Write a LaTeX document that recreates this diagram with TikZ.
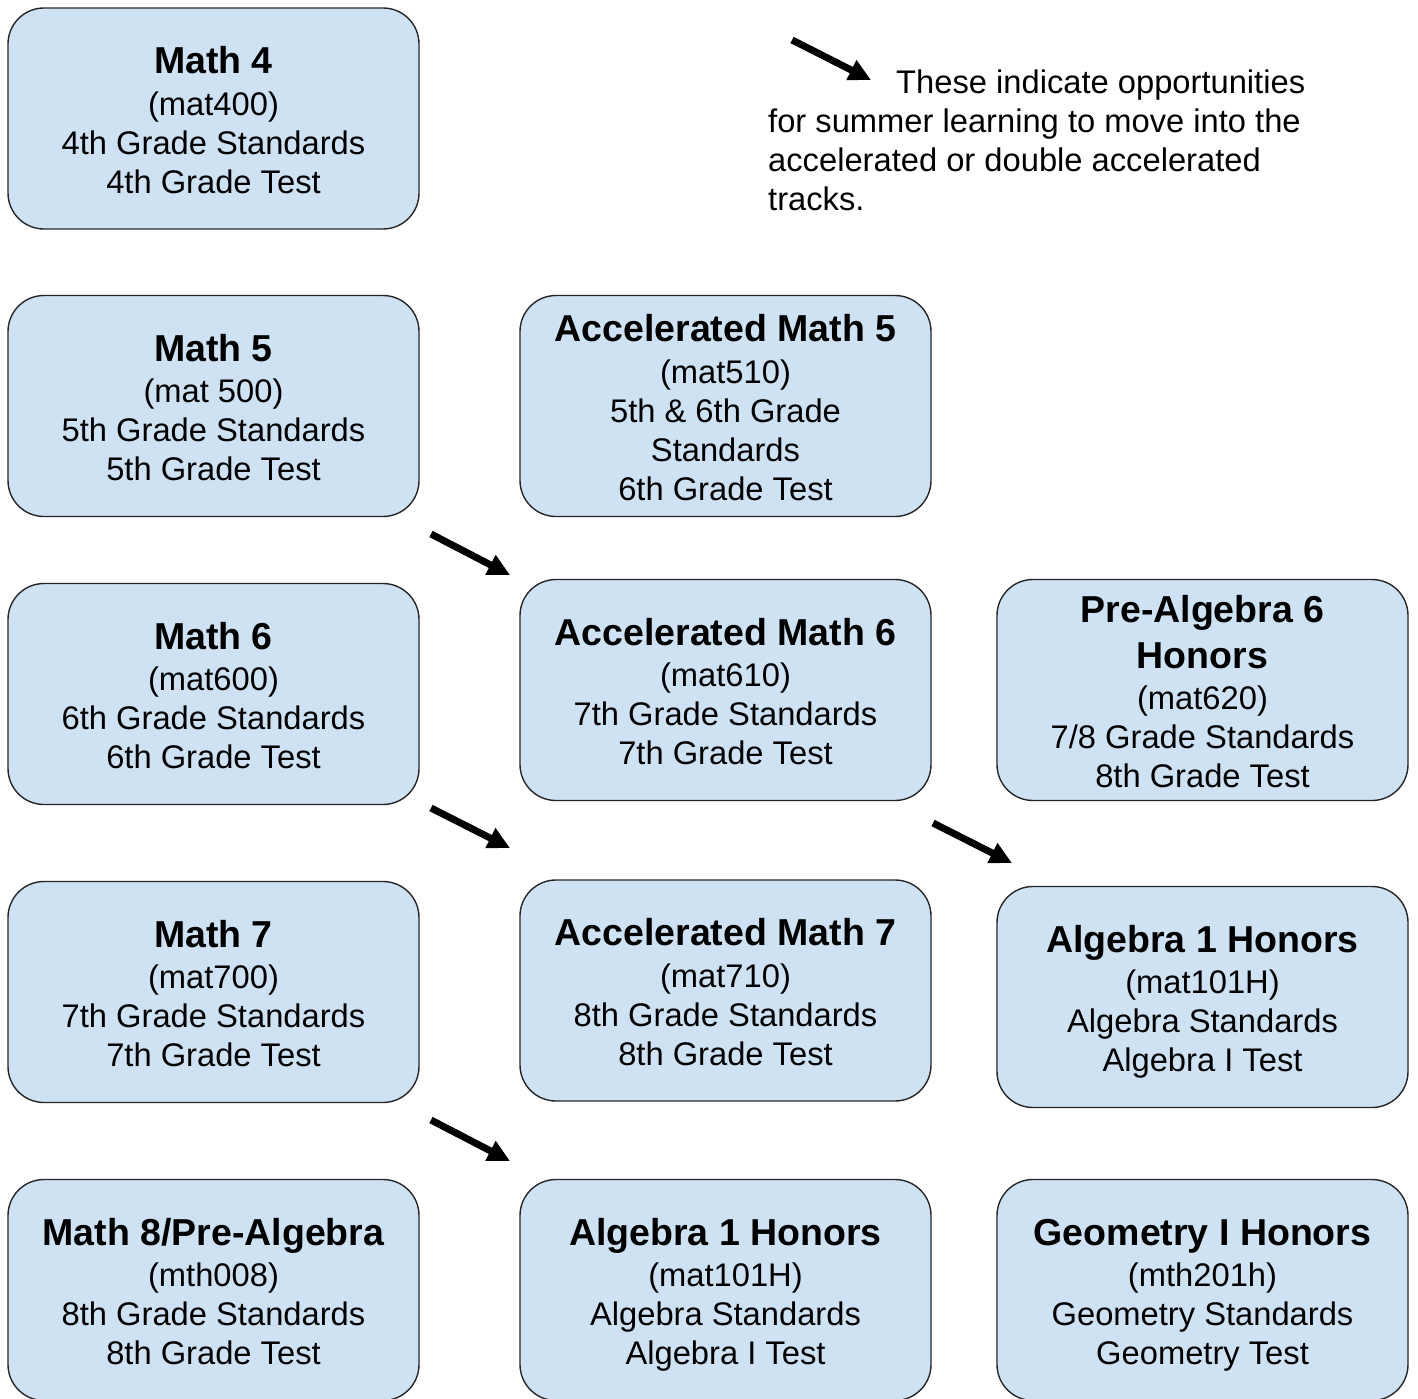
\documentclass[tikz,border=0pt]{standalone}
\usepackage{fontspec}
\setmainfont{Liberation Sans}
\usetikzlibrary{arrows.meta}
\definecolor{boxfill}{HTML}{CFE2F3}
\newcommand{\tl}[1]{{\fontsize{37.5}{39}\selectfont\bfseries #1}}
\newcommand{\topst}{\rule{0pt}{37pt}}
\newcommand{\botst}{\rule[-7pt]{0pt}{7pt}}
\tikzset{
  box/.style={draw=black!85, line width=1.4pt, fill=boxfill, rounded corners=36pt,
    minimum width=411pt, minimum height=221pt, inner sep=0pt, align=center,
    font=\fontsize{32.7}{39}\selectfont},
  sumarrow/.style={line width=7pt, -{Triangle[length=22pt,width=21pt]}},
}
\begin{document}
\begin{tikzpicture}[x=1pt,y=-1pt]
\useasboundingbox (0,0) rectangle (1418,1399);
% column 1
\node[box] (m4) at (213.5,118.5) {\topst\tl{Math 4}\\[2.3pt] (mat400)\\ 4th Grade Standards\\ 4th Grade Test\botst};
\node[box] (m5) at (213.5,406) {\topst\tl{Math 5}\\[2.3pt] (mat 500)\\ 5th Grade Standards\\ 5th Grade Test\botst};
\node[box] (m6) at (213.5,694) {\topst\tl{Math 6}\\[2.3pt] (mat600)\\ 6th Grade Standards\\ 6th Grade Test\botst};
\node[box] (m7) at (213.5,992) {\topst\tl{Math 7}\\[2.3pt] (mat700)\\ 7th Grade Standards\\ 7th Grade Test\botst};
\node[box] (m8) at (213.5,1290) {\topst\tl{Math 8/Pre-Algebra}\\[2.3pt] (mth008)\\ 8th Grade Standards\\ 8th Grade Test\botst};
% column 2
\node[box] (a5) at (725.5,406) {\topst\tl{Accelerated Math 5}\\[2.3pt] (mat510)\\ 5th \& 6th Grade\\ Standards\\ 6th Grade Test\botst};
\node[box] (a6) at (725.5,690) {\topst\tl{Accelerated Math 6}\\[2.3pt] (mat610)\\ 7th Grade Standards\\ 7th Grade Test\botst};
\node[box] (a7) at (725.5,990.5) {\topst\tl{Accelerated Math 7}\\[2.3pt] (mat710)\\ 8th Grade Standards\\ 8th Grade Test\botst};
\node[box] (a8) at (725.5,1290) {\topst\tl{Algebra 1 Honors}\\[2.3pt] (mat101H)\\ Algebra Standards\\ Algebra I Test\botst};
% column 3
\node[box] (p6) at (1202.5,690) {\topst\tl{Pre-Algebra 6}\\[7pt] \tl{Honors}\\[2.3pt] (mat620)\\ 7/8 Grade Standards\\ 8th Grade Test\botst};
\node[box] (h7) at (1202.5,997) {\topst\tl{Algebra 1 Honors}\\[2.3pt] (mat101H)\\ Algebra Standards\\ Algebra I Test\botst};
\node[box] (g8) at (1202.5,1290) {\topst\tl{Geometry I Honors}\\[2.3pt] (mth201h)\\ Geometry Standards\\ Geometry Test\botst};
% legend
\node[anchor=north west, inner sep=0pt, align=left, font=\fontsize{32.7}{38.9}\selectfont] (legend) at (768,70)
  {\hspace*{128pt}These indicate opportunities\\ for summer learning to move into the\\ accelerated or double accelerated\\ tracks.};
% arrows
\coordinate (l0) at (792,40); \coordinate (l1) at (871,80);
\coordinate (s1a) at (431,534); \coordinate (s1b) at (510,575);
\coordinate (s2a) at (431,808); \coordinate (s2b) at (510,848);
\coordinate (s3a) at (933,823); \coordinate (s3b) at (1012,863);
\coordinate (s4a) at (431,1120); \coordinate (s4b) at (510,1161);
\draw[sumarrow] (l0) -- (l1);
\draw[sumarrow] (s1a) -- (s1b);
\draw[sumarrow] (s2a) -- (s2b);
\draw[sumarrow] (s3a) -- (s3b);
\draw[sumarrow] (s4a) -- (s4b);
\end{tikzpicture}
\end{document}
